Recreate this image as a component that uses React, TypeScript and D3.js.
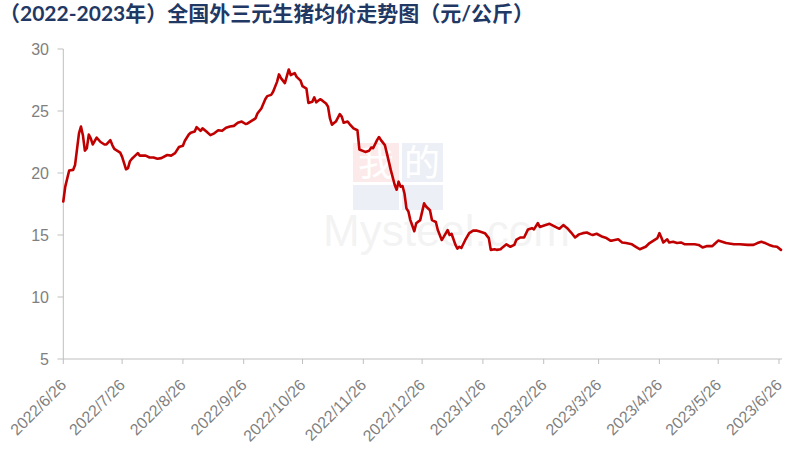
import React from "react";
import * as d3 from "d3";

const dates: string[] = [
  "2022-06-26","2022-06-27","2022-06-29","2022-07-01","2022-07-02","2022-07-04","2022-07-05","2022-07-06","2022-07-07","2022-07-08",
  "2022-07-09","2022-07-10","2022-07-11","2022-07-13","2022-07-15","2022-07-17","2022-07-18","2022-07-20","2022-07-21","2022-07-22",
  "2022-07-25","2022-07-26","2022-07-28","2022-07-29","2022-07-30","2022-07-31","2022-08-01","2022-08-03","2022-08-04","2022-08-07",
  "2022-08-09","2022-08-11","2022-08-13","2022-08-15","2022-08-18","2022-08-20","2022-08-22","2022-08-24","2022-08-26","2022-08-27",
  "2022-08-29","2022-08-30","2022-09-01","2022-09-02","2022-09-04","2022-09-05","2022-09-07","2022-09-09","2022-09-11","2022-09-13",
  "2022-09-15","2022-09-17","2022-09-19","2022-09-21","2022-09-23","2022-09-25","2022-09-27","2022-09-28","2022-09-30","2022-10-02",
  "2022-10-03","2022-10-05","2022-10-07","2022-10-08","2022-10-10","2022-10-11","2022-10-13","2022-10-14","2022-10-15","2022-10-17",
  "2022-10-19","2022-10-20","2022-10-22","2022-10-23","2022-10-25","2022-10-26","2022-10-28","2022-10-29","2022-10-31","2022-11-01",
  "2022-11-02","2022-11-04","2022-11-05","2022-11-07","2022-11-08","2022-11-09","2022-11-10","2022-11-12","2022-11-14","2022-11-15",
  "2022-11-16","2022-11-18","2022-11-19","2022-11-21","2022-11-23","2022-11-24","2022-11-27","2022-11-29","2022-11-30","2022-12-01",
  "2022-12-03","2022-12-04","2022-12-05","2022-12-07","2022-12-08","2022-12-10","2022-12-12","2022-12-13","2022-12-14","2022-12-15",
  "2022-12-16","2022-12-17","2022-12-18","2022-12-19","2022-12-20","2022-12-22","2022-12-23","2022-12-25","2022-12-27","2022-12-28",
  "2022-12-30","2022-12-31","2023-01-02","2023-01-03","2023-01-05","2023-01-06","2023-01-08","2023-01-09","2023-01-10","2023-01-12",
  "2023-01-13","2023-01-14","2023-01-15","2023-01-17","2023-01-19","2023-01-21","2023-01-23","2023-01-24","2023-01-27","2023-01-29",
  "2023-01-30","2023-02-01","2023-02-02","2023-02-04","2023-02-05","2023-02-07","2023-02-09","2023-02-11","2023-02-12","2023-02-14",
  "2023-02-16","2023-02-18","2023-02-20","2023-02-21","2023-02-23","2023-02-24","2023-02-27","2023-03-01","2023-03-04","2023-03-06",
  "2023-03-08","2023-03-10","2023-03-12","2023-03-14","2023-03-16","2023-03-18","2023-03-20","2023-03-22","2023-03-23","2023-03-25",
  "2023-03-28","2023-03-30","2023-04-01","2023-04-02","2023-04-05","2023-04-07","2023-04-09","2023-04-12","2023-04-14","2023-04-16",
  "2023-04-19","2023-04-21","2023-04-23","2023-04-25","2023-04-26","2023-04-27","2023-04-28","2023-04-30","2023-05-01","2023-05-03",
  "2023-05-05","2023-05-07","2023-05-09","2023-05-11","2023-05-14","2023-05-16","2023-05-18","2023-05-20","2023-05-23","2023-05-24",
  "2023-05-26","2023-05-28","2023-05-30","2023-06-03","2023-06-06","2023-06-10","2023-06-13","2023-06-15","2023-06-17","2023-06-19",
  "2023-06-21","2023-06-23","2023-06-25","2023-06-27"
];

const prices: number[] = [
  17.7,18.9,20.2,20.25,20.65,23.2,23.75,23.05,21.8,22.0,
  23.1,22.8,22.3,22.85,22.5,22.3,22.3,22.65,22.25,21.95,
  21.65,21.3,20.3,20.4,20.95,21.15,21.3,21.6,21.4,21.4,
  21.25,21.25,21.15,21.2,21.45,21.4,21.6,22.1,22.2,22.6,
  23.1,23.25,23.35,23.7,23.4,23.6,23.35,23.05,23.2,23.45,
  23.4,23.65,23.75,23.8,24.05,24.15,23.95,24.0,24.2,24.4,
  24.8,25.2,25.95,26.2,26.3,26.55,27.35,27.95,27.65,27.25,
  28.35,27.9,28.05,27.75,27.45,27.0,26.8,25.65,25.75,26.1,
  25.7,25.95,25.85,25.6,25.35,24.4,23.9,24.15,24.75,24.55,
  24.05,24.15,23.95,23.6,23.45,21.9,21.7,21.8,22.05,22.0,
  22.65,22.9,22.65,22.25,21.6,20.25,19.05,18.65,19.3,18.9,
  18.95,18.35,17.15,16.9,16.2,15.3,15.95,16.2,17.55,17.3,
  17.0,16.2,16.05,15.4,14.6,14.85,15.4,15.0,15.1,14.2,
  13.9,14.05,13.95,14.6,15.15,15.35,15.35,15.3,15.15,14.75,
  13.8,13.85,13.8,13.85,14.0,14.25,14.05,14.2,14.6,14.8,
  14.8,15.45,15.55,15.45,15.95,15.65,15.8,15.9,15.65,15.5,
  15.8,15.55,15.2,14.8,15.05,15.15,15.2,15.05,15.0,15.1,
  14.85,14.75,14.55,14.55,14.65,14.4,14.35,14.25,14.05,13.85,
  14.05,14.35,14.55,14.75,15.15,14.8,14.4,14.65,14.4,14.45,
  14.35,14.4,14.25,14.25,14.25,14.2,14.0,14.1,14.1,14.25,
  14.55,14.45,14.35,14.25,14.25,14.2,14.2,14.35,14.45,14.35,
  14.2,14.1,14.05,13.8
];

const yTicks: number[] = [5, 10, 15, 20, 25, 30];
const xTickLabels: string[] = [
  "2022/6/26","2022/7/26","2022/8/26","2022/9/26","2022/10/26","2022/11/26","2022/12/26",
  "2023/1/26","2023/2/26","2023/3/26","2023/4/26","2023/5/26","2023/6/26"
];

const title = "（2022-2023年）全国外三元生猪均价走势图（元/公斤）";

const W = 788;
const H = 449;

export default function App() {
  const parse = d3.timeParse("%Y-%m-%d");
  const parseTick = d3.timeParse("%Y/%m/%d");
  const data = dates.map((d, i) => ({ date: parse(d) as Date, value: prices[i] }));

  const x = d3
    .scaleTime()
    .domain([parse("2022-06-26") as Date, parse("2023-06-26") as Date])
    .range([63.3, 779]);
  const y = d3.scaleLinear().domain([5, 30]).range([359, 49]);

  const line = d3
    .line<{ date: Date; value: number }>()
    .x((d) => x(d.date))
    .y((d) => y(d.value))
    .curve(d3.curveLinear);

  const axisColor = "#bfbfbf";
  const labelColor = "#7f7f7f";
  const labelFont = "Arial, 'Liberation Sans', sans-serif";

  return (
    <svg
      width={W}
      height={H}
      style={{ position: "absolute", left: 0, top: 0, background: "#fff" }}
    >
      <rect x={0} y={0} width={W} height={H} fill="#fff" />
      {/* title */}
      <text
        x={-1}
        y={21}
        fontSize={21}
        fontWeight="bold"
        fill="#1f3864"
        style={{ fontFamily: "Lato, 'Noto Sans CJK SC', sans-serif" }}
      >
        {title}
      </text>

      {/* watermark */}
      <g opacity={0.08}>
        <rect x={353} y={143} width={46} height={39} fill="#e60012" />
        <rect x={402} y={143} width={41} height={39} fill="#1d4f9c" />
        <rect x={353} y={185} width={46} height={25} fill="#1d4f9c" />
        <rect x={402} y={185} width={41} height={25} fill="#1d4f9c" />
      </g>
      <g style={{ fontFamily: "'Noto Sans CJK SC', sans-serif" }} fill="#fff" fontSize={36}>
        <text x={376} y={176} textAnchor="middle">我</text>
        <text x={422} y={176} textAnchor="middle">的</text>
      </g>
      <text
        x={323}
        y={246}
        fontSize={44}
        fill="#000"
        opacity={0.045}
        style={{ fontFamily: "Arial, 'Liberation Sans', sans-serif" }}
      >
        Mysteel.com
      </text>

      {/* y axis */}
      <line x1={63.3} x2={63.3} y1={y(30)} y2={y(5)} stroke={axisColor} strokeWidth={1} />
      {yTicks.map((t) => (
        <g key={t}>
          <line x1={57.5} x2={63.3} y1={y(t)} y2={y(t)} stroke={axisColor} strokeWidth={1} />
          <text
            x={49}
            y={y(t)}
            dy="0.36em"
            textAnchor="end"
            fontSize={16}
            fill={labelColor}
            style={{ fontFamily: labelFont }}
          >
            {t}
          </text>
        </g>
      ))}

      {/* x axis */}
      <line x1={63.3} x2={782} y1={y(5)} y2={y(5)} stroke={axisColor} strokeWidth={1} />
      {xTickLabels.map((lab) => {
        const tx = x(parseTick(lab) as Date);
        return (
          <g key={lab}>
            <line x1={tx} x2={tx} y1={y(5)} y2={y(5) + 5} stroke={axisColor} strokeWidth={1} />
            <text
              transform={`translate(${tx + 4},${y(5) + 27}) rotate(-45)`}
              textAnchor="end"
              fontSize={16}
              fill={labelColor}
              style={{ fontFamily: labelFont }}
            >
              {lab}
            </text>
          </g>
        );
      })}

      {/* line */}
      <path
        d={line(data) || ""}
        fill="none"
        stroke="#c00000"
        strokeWidth={2.6}
        strokeLinejoin="round"
        strokeLinecap="round"
      />
    </svg>
  );
}
